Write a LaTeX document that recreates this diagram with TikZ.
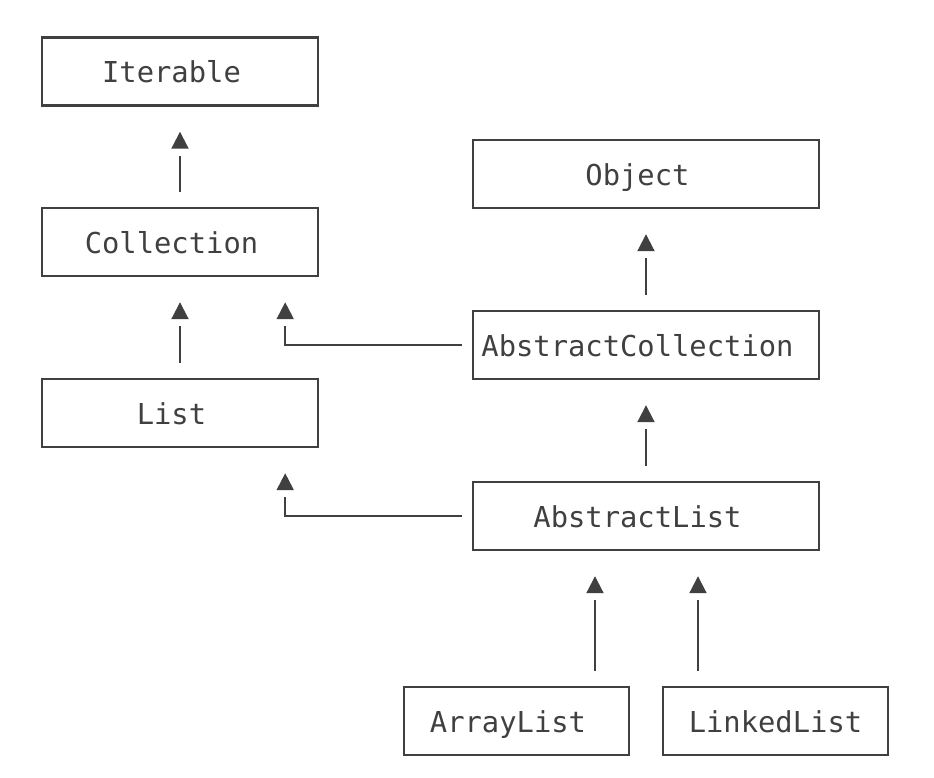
\documentclass[tikz,border=0pt]{standalone}
\usepackage{fontspec}
\setmonofont{DejaVu Sans Mono}
\usepackage{tikz}
\usetikzlibrary{arrows.meta}

\definecolor{boxColor}{RGB}{64,64,64}
\tikzset{
  cls/.style={draw=boxColor, line width=1.2pt, text=boxColor, inner sep=0pt,
    minimum height=34pt, text height=11pt, text depth=0pt,
    font=\ttfamily\fontsize{14.4}{17}\selectfont},
  lefttext/.style={execute at begin node={\hspace*{-8.5pt}}},
  isa/.style={draw=boxColor, line width=1pt, shorten <=7.5pt, shorten >=24.5pt,
    postaction={draw=boxColor, -{Triangle[width=8.5pt,length=8.5pt]},
      shorten >=12.5pt, dash pattern=on 0pt off 3000pt}}
}

\begin{document}
\begin{tikzpicture}[x=0.5pt,y=-0.5pt]
\useasboundingbox (0,0) rectangle (934,778);
% left column
\node[cls, lefttext, minimum width=138pt] (iter) at (180,71.5) {Iterable};
\node[cls, lefttext, minimum width=138pt] (coll) at (180,242) {Collection};
\node[cls, lefttext, minimum width=138pt] (list) at (180,413) {List};
% right column
\node[cls, lefttext, minimum width=173pt] (obj) at (646,174) {Object};
\node[cls, lefttext, minimum width=173pt] (acoll) at (646,345) {AbstractCollection};
\node[cls, lefttext, minimum width=173pt] (alist) at (646,516) {AbstractList};
\node[cls, lefttext, minimum width=112.5pt] (arr) at (516.5,721) {ArrayList};
\node[cls, minimum width=112.5pt] (link) at (775.5,721) {LinkedList};

\draw[isa] (coll) -- (iter);
\draw[isa] (list) -- (coll);
\draw[isa] (acoll) -- (obj);
\draw[isa] (alist) -- (acoll);
\draw[isa, shorten <=5pt] (acoll.west) -| ([xshift=-17pt]coll.south east);
\draw[isa, shorten <=5pt] (alist.west) -| ([xshift=-17pt]list.south east);
\draw[isa] ([xshift=39.25pt]arr.north) -- ([xshift=39.25pt]arr.north |- alist.south);
\draw[isa] ([xshift=-38.75pt]link.north) -- ([xshift=-38.75pt]link.north |- alist.south);
\end{tikzpicture}
\end{document}
